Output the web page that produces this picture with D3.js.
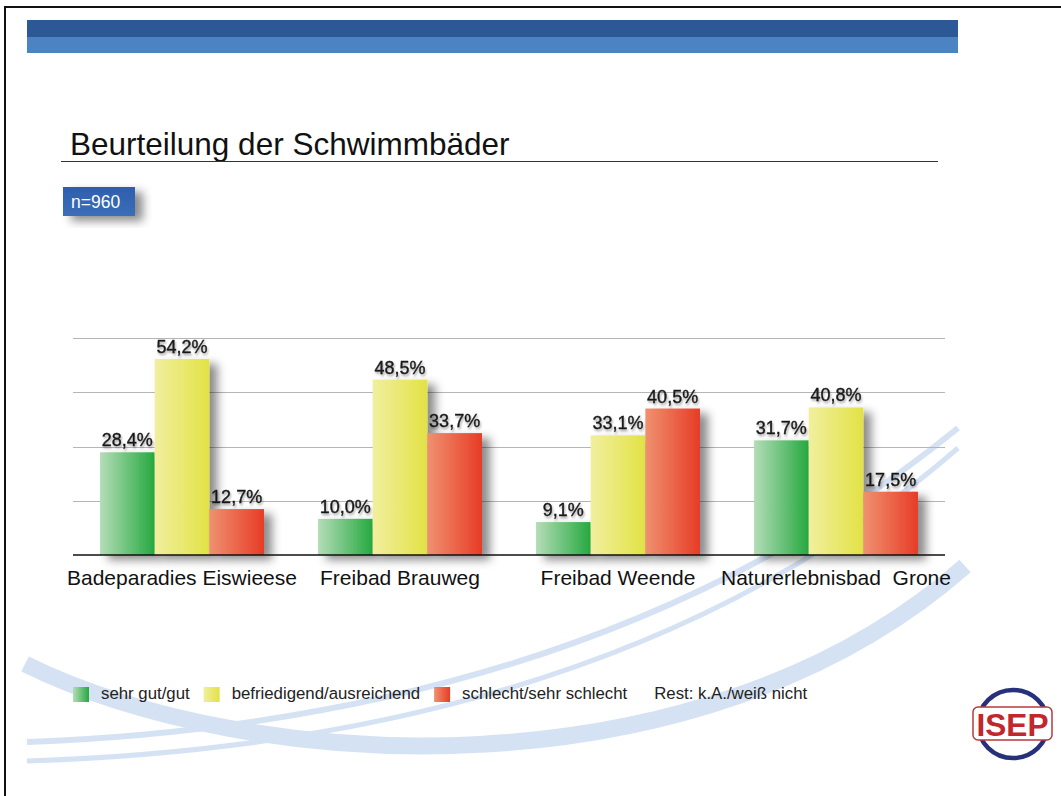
<!DOCTYPE html>
<html>
<head>
<meta charset="utf-8">
<script src="https://cdn.jsdelivr.net/npm/d3@7"></script>
<style>
  body { margin: 0; background: #fff; }
  svg { display: block; font-family: "Liberation Sans", Arial, Helvetica, sans-serif; }
</style>
</head>
<body>
<script>
const places = ['Badeparadies Eiswieese', 'Freibad Brauweg', 'Freibad Weende', 'Naturerlebnisbad  Grone'];
const seriesNames = ['sehr gut/gut', 'befriedigend/ausreichend', 'schlecht/sehr schlecht'];
const sehrGut = [28.4, 10.0, 9.1, 31.7];
const befriedigend = [54.2, 48.5, 33.1, 40.8];
const schlecht = [12.7, 33.7, 40.5, 17.5];
const gridValues = [15, 30, 45, 60];
const restNote = 'Rest: k.A./weiß nicht';
const sampleNote = 'n=960';

const width = 1061;
const height = 796;

const de = d3.formatLocale({ decimal: ',', thousands: '.', grouping: [3], currency: ['', '€'] });
const pct = v => de.format('.1f')(v) + '%';

const svg = d3.select('body')
    .append('svg')
    .attr('width', width)
    .attr('height', height);

const defs = svg.append('defs');

const gradients = [
    { id: 'g-green', from: '#b4ddb8', to: '#25a940' },
    { id: 'g-yellow', from: '#f1ef9e', to: '#e2e245' },
    { id: 'g-red', from: '#ef9170', to: '#e73c26' }
];
gradients.forEach(g => {
    const lg = defs.append('linearGradient').attr('id', g.id).attr('x1', 0).attr('x2', 1).attr('y1', 0).attr('y2', 0);
    lg.append('stop').attr('offset', '0%').attr('stop-color', g.from);
    lg.append('stop').attr('offset', '100%').attr('stop-color', g.to);
});

const boxGrad = defs.append('linearGradient').attr('id', 'g-box').attr('x1', 0).attr('x2', 0).attr('y1', 0).attr('y2', 1);
boxGrad.append('stop').attr('offset', '0%').attr('stop-color', '#2d5fae');
boxGrad.append('stop').attr('offset', '100%').attr('stop-color', '#3b6db8');

defs.append('filter').attr('id', 'shadow').attr('x', '-20%').attr('y', '-20%').attr('width', '170%').attr('height', '160%')
    .append('feDropShadow').attr('dx', 8).attr('dy', 5).attr('stdDeviation', 5)
    .attr('flood-color', '#000').attr('flood-opacity', 0.45);

defs.append('filter').attr('id', 'tshadow').attr('x', '-20%').attr('y', '-40%').attr('width', '150%').attr('height', '200%')
    .append('feDropShadow').attr('dx', 1).attr('dy', 2).attr('stdDeviation', 1)
    .attr('flood-color', '#000').attr('flood-opacity', 0.35);

// frame
svg.append('rect')
    .attr('x', 5).attr('y', 7).attr('width', 1100).attr('height', 900)
    .attr('fill', '#fff').attr('stroke', '#111').attr('stroke-width', 2);

// background swooshes
const swoosh = svg.append('g').attr('fill', 'none').attr('stroke', '#b3cbeb').attr('opacity', 0.55);
swoosh.append('path')
    .attr('d', 'M25,664 C250,775 700,800 965,566')
    .attr('stroke-width', 17);
swoosh.append('path')
    .attr('d', 'M27,742 Q600,720 958,428')
    .attr('stroke-width', 6);
swoosh.append('path')
    .attr('d', 'M27,761 Q620,742 958,448')
    .attr('stroke-width', 5);

// header bar
svg.append('rect').attr('x', 27).attr('y', 20).attr('width', 931).attr('height', 17).attr('fill', '#2c5995');
svg.append('rect').attr('x', 27).attr('y', 37).attr('width', 931).attr('height', 16).attr('fill', '#4b83c3');

// title
svg.append('text')
    .attr('x', 70).attr('y', 155)
    .attr('font-size', 31.5).attr('fill', '#111')
    .text('Beurteilung der Schwimmbäder');
svg.append('line')
    .attr('x1', 61).attr('x2', 938).attr('y1', 161.5).attr('y2', 161.5)
    .attr('stroke', '#333').attr('stroke-width', 1);

// n box
svg.append('rect')
    .attr('x', 63).attr('y', 187).attr('width', 72).attr('height', 29)
    .attr('fill', 'url(#g-box)').attr('filter', 'url(#shadow)');
svg.append('text')
    .attr('x', 71).attr('y', 208)
    .attr('font-size', 17.5).attr('fill', '#fff')
    .text(sampleNote);

// chart
const x0 = d3.scaleBand()
    .domain(places)
    .range([73, 945])
    .paddingInner(0.248)
    .paddingOuter(0.124);

const x1 = d3.scaleBand()
    .domain(seriesNames)
    .range([0, x0.bandwidth()]);

const y = d3.scaleLinear()
    .domain([0, 60])
    .range([555, 338]);

svg.append('g')
    .selectAll('line')
    .data(gridValues)
    .join('line')
    .attr('x1', 73).attr('x2', 945)
    .attr('y1', d => Math.round(y(d)) + 0.5)
    .attr('y2', d => Math.round(y(d)) + 0.5)
    .attr('stroke', '#b5b5b5').attr('stroke-width', 1);

const rows = places.map((p, i) => ({
    place: p,
    values: [sehrGut[i], befriedigend[i], schlecht[i]].map((v, j) => ({ series: seriesNames[j], value: v, grad: gradients[j].id }))
}));

const groups = svg.append('g')
    .selectAll('g')
    .data(rows)
    .join('g')
    .attr('transform', d => `translate(${x0(d.place)},0)`);

groups.selectAll('rect')
    .data(d => d.values)
    .join('rect')
    .attr('x', d => x1(d.series))
    .attr('y', d => y(d.value))
    .attr('width', x1.bandwidth())
    .attr('height', d => y(0) - y(d.value))
    .attr('fill', d => `url(#${d.grad})`)
    .attr('filter', 'url(#shadow)');

groups.selectAll('text')
    .data(d => d.values)
    .join('text')
    .attr('x', d => x1(d.series) + x1.bandwidth() / 2)
    .attr('y', d => y(d.value) - 6)
    .attr('text-anchor', 'middle')
    .attr('font-size', 18)
    .attr('fill', '#1a1a1a')
    .attr('stroke', '#1a1a1a').attr('stroke-width', 0.35)
    .attr('filter', 'url(#tshadow)')
    .text(d => pct(d.value));

svg.append('line')
    .attr('x1', 73).attr('x2', 945)
    .attr('y1', y(0)).attr('y2', y(0))
    .attr('stroke', '#111').attr('stroke-width', 1.5);

svg.append('g')
    .selectAll('text')
    .data(places)
    .join('text')
    .attr('x', d => x0(d) + x0.bandwidth() / 2)
    .attr('y', 585)
    .attr('text-anchor', 'middle')
    .attr('font-size', 21)
    .attr('fill', '#111')
    .style('white-space', 'pre')
    .text(d => d);

// legend
const legend = svg.append('g').attr('transform', 'translate(73,0)');
let lx = 0;
seriesNames.forEach((name, i) => {
    legend.append('rect')
        .attr('x', lx).attr('y', 687).attr('width', 16).attr('height', 15)
        .attr('fill', `url(#${gradients[i].id})`);
    const t = legend.append('text')
        .attr('x', lx + 28).attr('y', 699)
        .attr('font-size', 16.8).attr('fill', '#222')
        .text(name);
    lx += 28 + t.node().getComputedTextLength() + 14;
});
legend.append('text')
    .attr('x', lx + 13).attr('y', 699)
    .attr('font-size', 16.8).attr('fill', '#222')
    .text(restNote);

// logo
const logo = svg.append('g');
logo.append('ellipse')
    .attr('cx', 1013).attr('cy', 724).attr('rx', 35).attr('ry', 34)
    .attr('fill', 'none').attr('stroke', '#27307a').attr('stroke-width', 4.5);
logo.append('rect')
    .attr('x', 973).attr('y', 707).attr('width', 79).attr('height', 33).attr('rx', 5)
    .attr('fill', '#fff').attr('stroke', '#b83a40').attr('stroke-width', 1.5);
logo.append('text')
    .attr('x', 1012.5).attr('y', 736)
    .attr('text-anchor', 'middle')
    .attr('font-size', 32).attr('font-weight', 'bold')
    .attr('fill', '#c1272d')
    .attr('textLength', 72).attr('lengthAdjust', 'spacingAndGlyphs')
    .text('ISEP');
</script>
</body>
</html>
